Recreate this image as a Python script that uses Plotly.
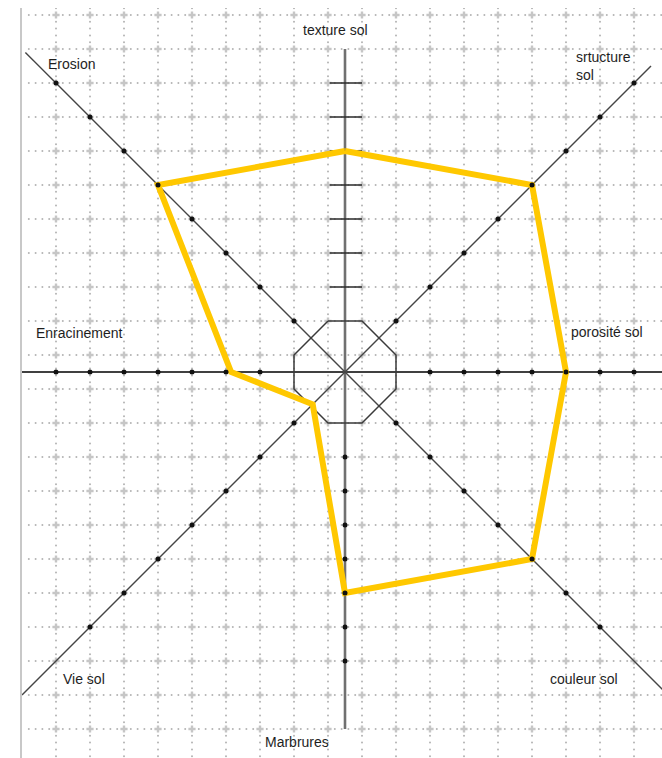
import numpy as np
import plotly.graph_objects as go

# ---- data ----
categories = ["texture sol", "srtucture sol", "porosité sol", "couleur sol",
              "Marbrures", "Vie sol", "Enracinement", "Erosion"]
values = [6.5, 5.5, 6.5, 5.5, 6.5, 0.95, 3.35, 5.5]
# axis directions (grid units) for each category
dir_x = [0, 1, 1, 1, 0, -1, -1, -1]
dir_y = [1, 1, 0, -1, -1, -1, 0, 1]

# graduation marks on each axis arm
top_ticks = [2.5, 3.5, 4.5, 5.5, 6.5, 7.5, 8.5]
h_dots = [2.5, 3.5, 4.5, 5.5, 6.5, 7.5, 8.5]
bottom_dots = [2.5, 3.5, 4.5, 5.5, 6.5, 7.5, 8.5]
ul_dots = [1.5, 2.5, 3.5, 4.5, 5.5, 6.5, 7.5, 8.5]
ur_dots = [1.5, 2.5, 3.5, 4.5, 5.5, 6.5, 7.5, 8.5]
lr_dots = [1.5, 2.5, 3.5, 4.5, 5.5, 6.5, 7.5]
ll_dots = [1.5, 2.5, 3.5, 4.5, 5.5, 6.5, 7.5]

XR = [-9.5, 9.3235]
YR = [-11.353, 10.706]

fig = go.Figure()

# ---- dotted grid ----
cols = np.arange(-9.5, 9.4, 1.0)
rows = np.arange(10.5, -10.6, -1.0)
gx, gy = [], []
xs = np.arange(-9.5 + 0.2, 9.33, 0.2)
for r in rows:
    gx.extend(xs); gy.extend([r] * len(xs))
ys = np.arange(10.5 + 0.2 * 1, -11.36, -0.2)
for c in cols[1:]:
    gx.extend([c] * len(ys)); gy.extend(ys)
fig.add_trace(go.Scatter(x=gx, y=gy, mode="markers", hoverinfo="skip",
                         marker=dict(size=2, color="#b4b4b4", line=dict(width=0))))
ix, iy = [], []
for c in cols[1:]:
    for r in rows:
        ix.append(c); iy.append(r)
fig.add_trace(go.Scatter(x=ix, y=iy, mode="markers", hoverinfo="skip",
                         marker=dict(size=6, symbol="cross", color="#c6c6c6", line=dict(width=0))))

def seg(x0, y0, x1, y1, color, width):
    fig.add_trace(go.Scatter(x=[x0, x1], y=[y0, y1], mode="lines", hoverinfo="skip",
                             line=dict(color=color, width=width)))

# ---- axes ----
seg(-9.5, 0, 9.4, 0, "#404040", 1.8)
seg(0, 9.5, 0, -10.5, "#707070", 2.6)
seg(-9.4, 9.4, 9.4, -9.4, "#454545", 1.4)
seg(9.0, 9.0, -9.5, -9.5, "#454545", 1.4)

# octagon
ox = [-0.5, 0.5, 1.5, 1.5, 0.5, -0.5, -1.5, -1.5, -0.5]
oy = [1.5, 1.5, 0.5, -0.5, -1.5, -1.5, -0.5, 0.5, 1.5]
fig.add_trace(go.Scatter(x=ox, y=oy, mode="lines", hoverinfo="skip",
                         line=dict(color="#3a3a3a", width=1.5)))

# top tick marks
tx, ty = [], []
for t in top_ticks:
    tx += [-0.45, 0.5, None]; ty += [t, t, None]
fig.add_trace(go.Scatter(x=tx, y=ty, mode="lines", hoverinfo="skip",
                         line=dict(color="#2a2a2a", width=1.5)))

# ---- yellow profile ----
px = [v * dx for v, dx in zip(values, dir_x)]
py = [v * dy for v, dy in zip(values, dir_y)]
fig.add_trace(go.Scatter(x=px + [px[0]], y=py + [py[0]], mode="lines",
                         hoverinfo="skip", line=dict(color="#FFC800", width=6)))

# ---- graduation dots ----
dx_, dy_ = [], []
for d in h_dots:
    dx_ += [-d, d]; dy_ += [0, 0]
for d in bottom_dots:
    dx_.append(0); dy_.append(-d)
for d in ul_dots:
    dx_.append(-d); dy_.append(d)
for d in ur_dots:
    dx_.append(d); dy_.append(d)
for d in lr_dots:
    dx_.append(d); dy_.append(-d)
for d in ll_dots:
    dx_.append(-d); dy_.append(-d)
fig.add_trace(go.Scatter(x=dx_, y=dy_, mode="markers", hoverinfo="skip",
                         marker=dict(size=5, color="#111111", line=dict(width=0))))

# ---- labels ----
label_pos = {
    "texture sol": (-1.3, 10.06),
    "srtucture sol": (6.74, 8.99),
    "porosité sol": (6.6, 1.19),
    "couleur sol": (5.96, -9.04),
    "Marbrures": (-2.4, -10.87),
    "Vie sol": (-8.36, -9.03),
    "Enracinement": (-9.15, 1.15),
    "Erosion": (-8.8, 9.06),
}
for name in categories:
    x, y = label_pos[name]
    text = "srtucture<br>sol" if name == "srtucture sol" else name
    fig.add_annotation(x=x, y=y, text=text, showarrow=False, xanchor="left",
                       yanchor="middle", align="left",
                       font=dict(family="Liberation Sans, Arial, sans-serif",
                                 size=14, color="#1e1e1e"))

fig.update_layout(
    width=662, height=758,
    margin=dict(l=22, r=0, t=8, b=0, pad=0),
    paper_bgcolor="white", plot_bgcolor="white",
    showlegend=False,
    xaxis=dict(range=XR, showgrid=False, zeroline=False, showticklabels=False,
               ticks="", fixedrange=True, showline=False),
    yaxis=dict(range=YR, showgrid=False, zeroline=False, showticklabels=False,
               ticks="", fixedrange=True, showline=True, linecolor="#c8c8c8",
               linewidth=2, mirror=False),
)

fig.write_html("out.html", config={"displayModeBar": False},
               post_script="document.body.style.margin='0';document.body.style.overflow='hidden';")
